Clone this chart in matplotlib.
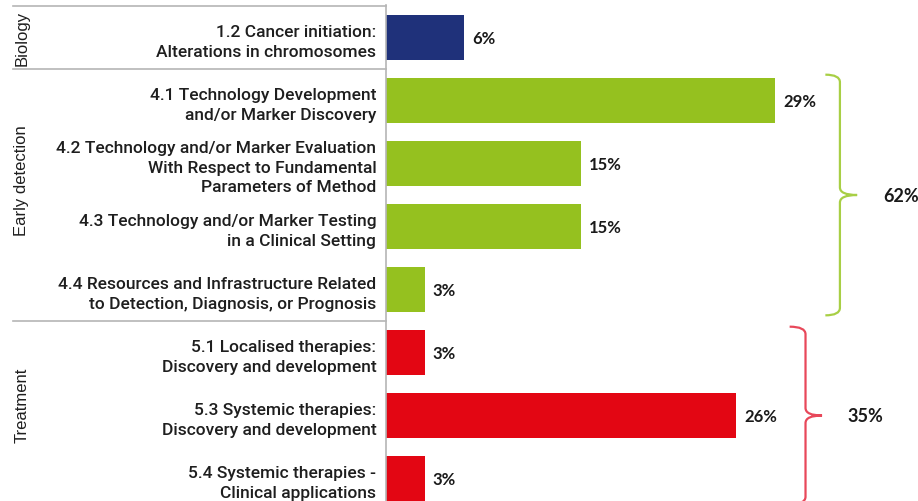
import matplotlib
matplotlib.use("Agg")
import matplotlib.pyplot as plt
from matplotlib.path import Path
from matplotlib.patches import PathPatch
import matplotlib.transforms as mtransforms

# Data
categories = [
    "1.2 Cancer initiation:\nAlterations in chromosomes",
    "4.1 Technology Development\nand/or Marker Discovery",
    "4.2 Technology and/or Marker Evaluation\nWith Respect to Fundamental\nParameters of Method",
    "4.3 Technology and/or Marker Testing\nin a Clinical Setting",
    "4.4 Resources and Infrastructure Related\nto Detection, Diagnosis, or Prognosis",
    "5.1 Localised therapies:\nDiscovery and development",
    "5.3 Systemic therapies:\nDiscovery and development",
    "5.4 Systemic therapies -\nClinical applications",
]
values = [5.88, 29.41, 14.71, 14.71, 2.94, 2.94, 26.47, 2.94]
value_labels = ["6%", "29%", "15%", "15%", "3%", "3%", "26%", "3%"]
groups = ["Biology", "Early detection", "Treatment"]
group_sizes = [1, 4, 3]
group_colors = ["#1f317a", "#95c11f", "#e30613"]
brace_colors = [None, "#a8cf45", "#e8485a"]
group_totals = [None, "62%", "35%"]

plt.rcParams["font.family"] = ["Roboto", "DejaVu Sans"]

fig = plt.figure(figsize=(9.18, 5.02), dpi=100)
ax = fig.add_axes([386 / 918, 0, 532 / 918, 496 / 502])

bar_colors = []
for color, n in zip(group_colors, group_sizes):
    bar_colors += [color] * n

ypos = list(range(len(categories)))
ax.barh(ypos, values, height=0.72, color=bar_colors)
ax.set_ylim(7.357, -0.516)
ax.set_xlim(0, 40.2)

for y, v, lab in zip(ypos, values, value_labels):
    ax.annotate(lab, (v, y), xytext=(8, 0), textcoords="offset pixels",
                va="center", ha="left", fontsize=12, fontweight="bold",
                family=["Lato", "DejaVu Sans"], color="#1a1a1a")

ax.set_yticks(ypos)
ax.set_yticklabels(categories, fontsize=12.5, fontweight="medium",
                   color="#1e1e1e", linespacing=1.38,
                   ha="right", multialignment="right")
ax.tick_params(axis="y", length=0, pad=7)
ax.tick_params(axis="x", bottom=False, labelbottom=False)
for s in ["top", "right", "bottom"]:
    ax.spines[s].set_visible(False)
ax.spines["left"].set_color("#b5b5b5")
ax.spines["left"].set_linewidth(1.2)

# separator lines in the label panel
trans = mtransforms.blended_transform_factory(ax.transAxes, ax.transData)
x0 = (13 - 386) / 532
start = 0
bounds = [-0.5]
for n in group_sizes:
    start += n
    bounds.append(start - 0.5)
for b in bounds[:-1]:
    ax.plot([x0, 0], [b, b], transform=trans, color="#b5b5b5", lw=1.2,
            clip_on=False)

# group labels
group_label_y = [0, 2.25, 5.83]
for g, gy in zip(groups, group_label_y):
    ax.text(x0 + 9 / 532, gy, g, transform=trans, rotation=90, ha="center",
            va="center", fontsize=12, color="#1e1e1e",
            family=["Liberation Sans", "DejaVu Sans"])


def brace(ax, xv, xtip, xend, ytop, ybot, color):
    ymid = (ytop + ybot) / 2
    d = 0.12
    verts = [
        (xend, ytop), (xv, ytop), (xv, ytop + d),
        (xv, ymid - d), (xv, ymid), (xtip, ymid),
        (xv, ymid), (xv, ymid + d),
        (xv, ybot - d), (xv, ybot), (xend, ybot),
    ]
    codes = [Path.MOVETO, Path.CURVE3, Path.CURVE3,
             Path.LINETO, Path.CURVE3, Path.CURVE3,
             Path.CURVE3, Path.CURVE3,
             Path.LINETO, Path.CURVE3, Path.CURVE3]
    patch = PathPatch(Path(verts, codes), fill=False, edgecolor=color, lw=1.6,
                      clip_on=False)
    ax.add_patch(patch)
    return ymid


# braces for early detection and treatment
brace_x = [None, (34.3, 35.6, 33.2), (31.7, 32.95, 30.5)]
text_x = [None, 38.9, 36.2]
start = 0
for i, n in enumerate(group_sizes):
    if group_totals[i] is not None:
        ytop = start - 0.41
        ybot = start + n - 1 + 0.41
        xv, xtip, xend = brace_x[i]
        ymid = brace(ax, xv, xtip, xend, ytop, ybot, brace_colors[i])
        ax.text(text_x[i], ymid, group_totals[i], ha="center", va="center",
                fontsize=13, fontweight="bold", family=["Lato", "DejaVu Sans"],
                color="#1a1a1a", clip_on=False)
    start += n

fig.savefig("out.png", dpi=100)
